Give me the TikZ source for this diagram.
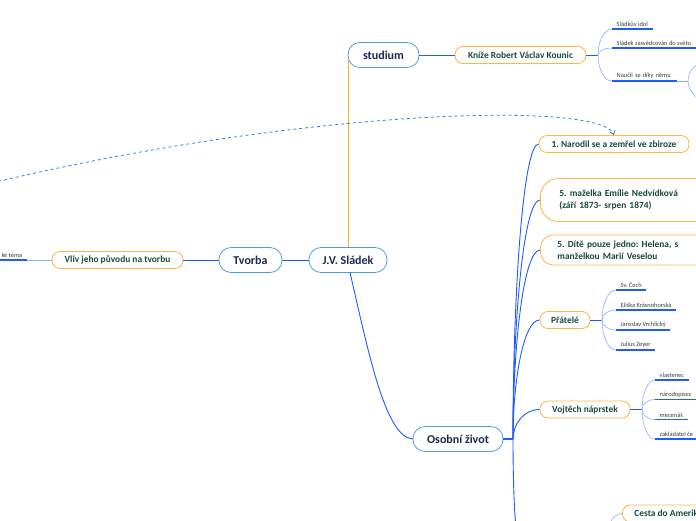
\documentclass[tikz,border=0pt]{standalone}
\usepackage{fontspec}
\setmainfont{Carlito}
\usetikzlibrary{calc,arrows.meta}
\frenchspacing

\definecolor{topicblue}{HTML}{4FA0D8}
\definecolor{linkblue}{HTML}{1F5CFF}
\definecolor{lightlink}{HTML}{8AAEFF}
\definecolor{suborange}{HTML}{FFB444}
\definecolor{trunkorange}{HTML}{FFA928}
\definecolor{navytext}{HTML}{1B2A4E}
\definecolor{greentext}{HTML}{1A4A3A}
\definecolor{leaftext}{HTML}{3A3A3A}
\definecolor{dashblue}{HTML}{2F7FE6}

\tikzset{fan/.style={to path={.. controls ($(\tikztostart)!0.5!(\tikztostart |- \tikztotarget)$) and ($(\tikztotarget)!0.6!(\tikztostart |- \tikztotarget)$) .. (\tikztotarget)}}}

\begin{document}
\begin{tikzpicture}[x=1pt,y=-1pt]
		\clip (0,0) rectangle (696,520);
		
		\tikzstyle{maintopic}=[draw=topicblue,
		fill=white,
		line width=0.8pt,
		rounded corners=12pt,
		minimum height=25pt,
		inner sep=0pt,
		text=navytext,
		font=\fontsize{12}{14}\selectfont\bfseries
		]
		\tikzstyle{subtopic}=[draw=suborange,
		fill=white,
		line width=0.8pt,
		rounded corners=8pt,
		minimum height=17pt,
		inner sep=0pt,
		text=greentext,
		font=\fontsize{9.4}{12}\selectfont\bfseries
		]
		\tikzstyle{leaf}=[inner xsep=4.5pt,
		inner ysep=2pt,
		text=leaftext,
		font=\fontsize{6.4}{7}\selectfont
		]
		\tikzstyle{link}=[draw=linkblue, line width=0.9pt]
		\tikzstyle{leaflink}=[draw=lightlink, line width=0.6pt]
		\tikzstyle{uline}=[draw=linkblue, line width=1.8pt]
		\tikzstyle{trunk}=[color=trunkorange, line width=1.6pt]
		
		\coordinate (psladek) at (348, 260);
		\coordinate (ptvorba) at (250.5, 260);
		\coordinate (pstudium) at (383.5, 55);
		\coordinate (posobni) at (458, 439);
		
		\coordinate (pkounic) at (520.5, 55);
		\coordinate (pvliv) at (117.5, 260);
		\coordinate (pnarodil) at (614, 144);
		\coordinate (pmanz) at (540, 200);
		\coordinate (pdite) at (540, 250);
		\coordinate (pprat) at (565, 320);
		\coordinate (pvoj) at (585, 409.5);
		\coordinate (pcesta) at (622, 513.5);
		
		% oranzova vetev pod uzly
		\coordinate (ptrunk1) at (348.5, 60);
		\coordinate (ptrunk2) at (348.5, 250);
		\draw[trunk] (ptrunk1) -- (ptrunk2);
		
		\node[maintopic, minimum width=78pt] (sladek) at (psladek) {J.V. Sládek};
		\node[maintopic, minimum width=63pt] (tvorba) at (ptvorba) {Tvorba};
		\node[maintopic, minimum width=71pt] (studium) at (pstudium) {studium};
		\node[maintopic, minimum width=90pt] (osobni) at (posobni) {Osobní život};
		
		\node[subtopic, minimum width=131pt] (kounic) at (pkounic) {Kníže Robert Václav Kounic};
		\node[subtopic, minimum width=131pt] (vliv) at (pvliv) {Vliv jeho původu na tvorbu};
		\node[subtopic, minimum width=150pt] (narodil) at (pnarodil) {1. Narodil se a zemřel ve zbiroze};
		\node[subtopic, anchor=west, rounded corners=18pt, minimum height=43pt, inner xsep=19pt,
		text width=150pt, align=left] (manz) at (pmanz) {5. maželka Emílie Nedvídková\\(září 1873- srpen 1874)};
		\node[subtopic, anchor=west, rounded corners=13pt, minimum height=30pt, inner xsep=17pt,
		text width=150pt, align=left] (dite) at (pdite) {5. Dítě pouze jedno: Helena, s\\manželkou Marií Veselou};
		\node[subtopic, minimum width=50pt] (prat) at (pprat) {Přátelé};
		\node[subtopic, minimum width=90pt] (voj) at (pvoj) {Vojtěch náprstek};
		\node[subtopic, anchor=west, inner xsep=12pt] (cesta) at (pcesta) {Cesta do Ameriky};
		
		% listy
		\node[leaf, anchor=south west] (k1) at (612, 29) {Sládkův idol};
		\node[leaf, anchor=south west] (k2) at (612, 48) {Sládek zasvědcován do světo};
		\node[leaf, anchor=south west, align=left, text width=56pt] (k3) at (612, 81) {Naučil se díky němu};
		\node[leaf, anchor=south east] (v1) at (27, 260) {ké téma};
		
		\node[leaf, anchor=south west] (f1) at (616, 290) {Sv. Čech};
		\node[leaf, anchor=south west] (f2) at (616, 310) {Eliška Krásnohorská};
		\node[leaf, anchor=south west] (f3) at (616, 330) {Jaroslav Vrchlický};
		\node[leaf, anchor=south west] (f4) at (616, 350) {Julius Zeyer};
		
		\node[leaf, anchor=south west] (n1) at (655, 380) {vlastenec};
		\node[leaf, anchor=south west] (n2) at (655, 399.5) {národopisec};
		\node[leaf, anchor=south west] (n3) at (655, 419.5) {mecenáš};
		\node[leaf, anchor=south west] (n4) at (655, 439) {zakladatel če};
		
		\coordinate (fk) at (598, 55);
		\coordinate (fn) at (688, 81);
		\coordinate (nu1) at (712, 60);
		\coordinate (nu2) at (712, 102);
		\coordinate (fp) at (602, 320);
		\coordinate (fv) at (642, 409.5);
		\coordinate (fo) at (513, 439);
		\coordinate (odown) at (518, 535);
		\coordinate (cdown) at (606, 540);
		\coordinate (dstart) at (-2, 181.5);
		
		% hlavni vetve
		\draw[link] (sladek) -- (tvorba);
		\draw[link] (tvorba) -- (vliv);
		\draw[link] (studium) -- (kounic);
		\draw[link] (350, 272.5) .. controls (368, 350) and (385, 437) .. (osobni.west);
		
		\draw[leaflink] (vliv.west) -- (v1.south east);
		\draw[uline] (v1.south east) -- (v1.south west);
		
		\draw[link] (kounic.east) -- (fk);
		\draw[leaflink] (fk) to[fan] (k1.south west);
		\draw[leaflink] (fk) to[fan] (k2.south west);
		\draw[leaflink] (fk) to[fan] (k3.south west);
		\draw[uline] (k1.south west) -- (k1.south east);
		\draw[uline] (k2.south west) -- (k2.south east);
		\draw[uline] (k3.south west) -- (k3.south east);
		\draw[leaflink] (k3.south east) -- (fn);
		\draw[leaflink] (fn) to[fan] (nu1);
		\draw[leaflink] (fn) to[fan] (nu2);
		
		\draw[link, line width=2pt] (osobni.east) -- (fo);
		\draw[link] (fo) to[fan] (narodil.west);
		\draw[link] (fo) to[fan] (manz.west);
		\draw[link] (fo) to[fan] (dite.west);
		\draw[link] (fo) to[fan] (prat.west);
		\draw[link] (fo) to[fan] (voj.west);
		\draw[link] (fo) to[fan] (odown);
		\draw[leaflink] (cdown) to[fan] (cesta.west);
		
		\draw[link] (prat.east) -- (fp);
		\draw[leaflink] (fp) to[fan] (f1.south west);
		\draw[leaflink] (fp) to[fan] (f2.south west);
		\draw[leaflink] (fp) to[fan] (f3.south west);
		\draw[leaflink] (fp) to[fan] (f4.south west);
		\draw[uline] (f1.south west) -- (f1.south east);
		\draw[uline] (f2.south west) -- (f2.south east);
		\draw[uline] (f3.south west) -- (f3.south east);
		\draw[uline] (f4.south west) -- (f4.south east);
		
		\draw[link] (voj.east) -- (fv);
		\draw[leaflink] (fv) to[fan] (n1.south west);
		\draw[leaflink] (fv) to[fan] (n2.south west);
		\draw[leaflink] (fv) to[fan] (n3.south west);
		\draw[leaflink] (fv) to[fan] (n4.south west);
		\draw[uline] (n1.south west) -- (n1.south east);
		\draw[uline] (n2.south west) -- (n2.south east);
		\draw[uline] (n3.south west) -- (n3.south east);
		\draw[uline] (n4.south west) -- (n4.south east);
		
		% spojnice
		\draw[dashblue, line width=0.8pt, dash pattern=on 3pt off 3pt, -{Straight Barb[length=4pt, width=6pt]}]
		(dstart) .. controls (300, 110) and (600, 100) .. (narodil.north);
		
\end{tikzpicture}
\end{document}
